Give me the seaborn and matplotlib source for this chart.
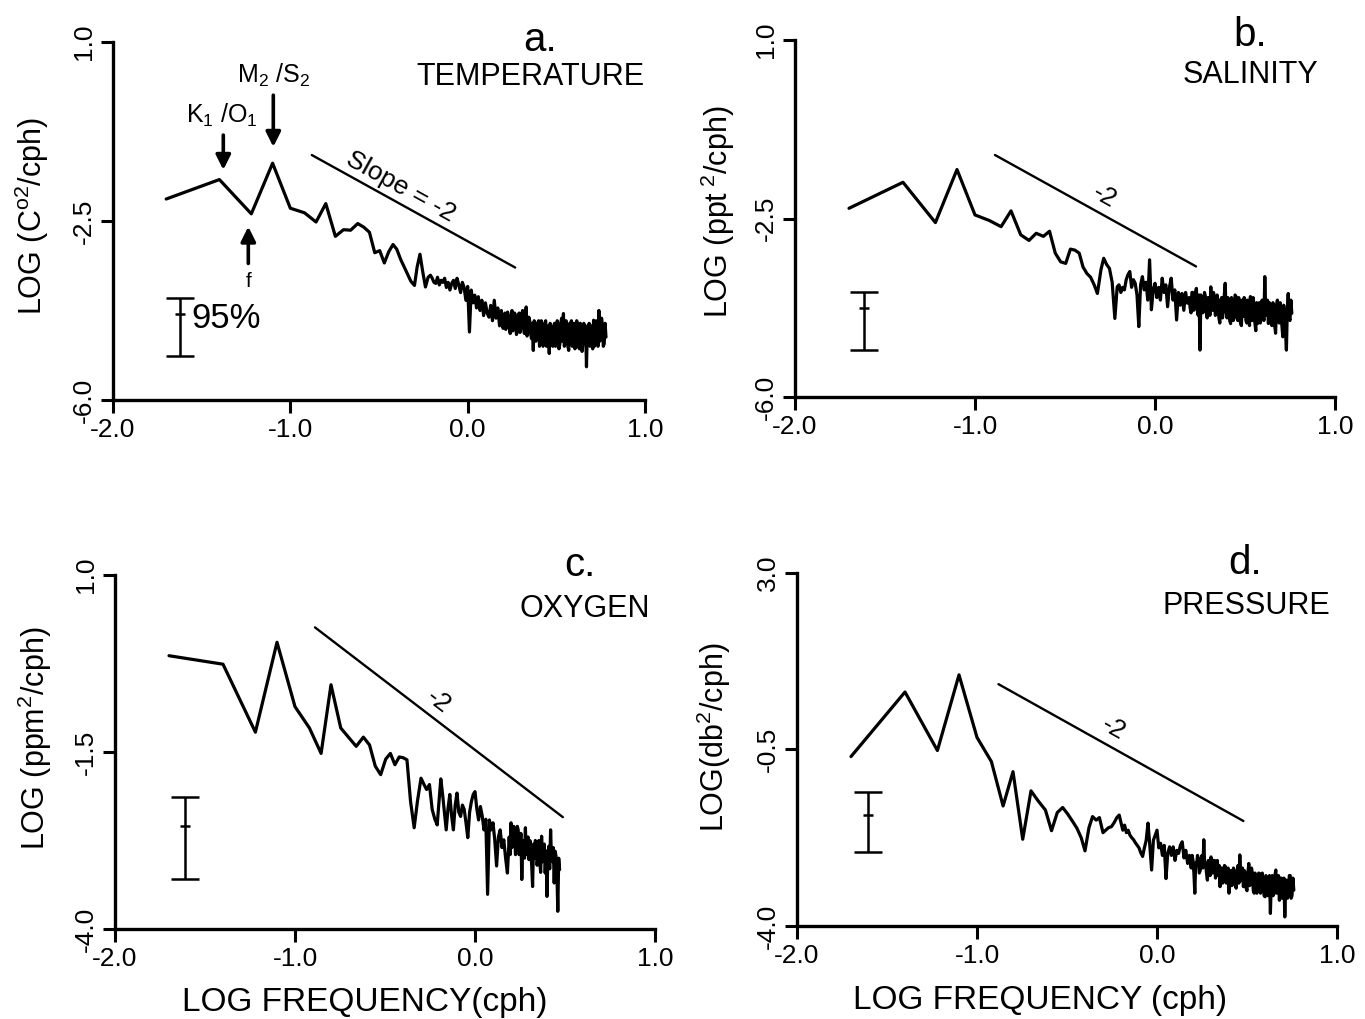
import numpy as np
import matplotlib
matplotlib.use("Agg")
import matplotlib.pyplot as plt
import seaborn as sns

sns.set_style("ticks")
plt.rcParams['font.family'] = ['Liberation Sans', 'DejaVu Sans']
plt.rcParams['mathtext.fontset'] = 'custom'
plt.rcParams['mathtext.rm'] = 'Liberation Sans'
plt.rcParams['mathtext.it'] = 'Liberation Sans'
plt.rcParams['mathtext.bf'] = 'Liberation Sans:bold'
plt.rcParams['axes.unicode_minus'] = False
for k in ['text.color', 'axes.labelcolor', 'xtick.color', 'ytick.color', 'axes.edgecolor']:
    plt.rcParams[k] = 'black'

# ---------------- data ----------------
# log10 frequency (cph) of the spectral estimates
freq_low = [
    -1.70, -1.40, -1.22, -1.10, -1.00, -0.92, -0.855, -0.80, -0.746, -0.70,
    -0.66, -0.62, -0.586, -0.554, -0.524, -0.496, -0.47, -0.445, -0.421, -0.40,
    -0.378, -0.358, -0.338, -0.32, -0.30, -0.285, -0.269, -0.253, -0.238, -0.223,
]
freq_mid = [
    -0.21, -0.20, -0.19, -0.18, -0.17, -0.16, -0.15, -0.14, -0.13, -0.12,
    -0.11, -0.10, -0.09, -0.08, -0.07, -0.06, -0.05, -0.04, -0.03, -0.02,
    -0.01, 0.00, 0.01, 0.02, 0.03, 0.04, 0.05, 0.06, 0.07, 0.08,
    0.09, 0.10, 0.11, 0.12, 0.13, 0.14, 0.15, 0.16, 0.17, 0.18,
]
freq_high = [
    0.19, 0.195, 0.20, 0.205, 0.21, 0.215, 0.22, 0.225, 0.23, 0.235,
    0.24, 0.245, 0.25, 0.255, 0.26, 0.265, 0.27, 0.275, 0.28, 0.285,
    0.29, 0.295, 0.30, 0.305, 0.31, 0.315, 0.32, 0.325, 0.33, 0.335,
    0.34, 0.345, 0.35, 0.355, 0.36, 0.365, 0.37, 0.375, 0.38, 0.385,
    0.39, 0.395, 0.40, 0.405, 0.41, 0.415, 0.42, 0.425, 0.43, 0.435,
    0.44, 0.445, 0.45, 0.455, 0.46, 0.465, 0.47, 0.475, 0.48, 0.485,
    0.49, 0.495, 0.50, 0.505, 0.51, 0.515, 0.52, 0.525, 0.53, 0.535,
    0.54, 0.545, 0.55, 0.555, 0.56, 0.565, 0.57, 0.575, 0.58, 0.585,
    0.59, 0.595, 0.60, 0.605, 0.61, 0.615, 0.62, 0.625, 0.63, 0.635,
    0.64, 0.645, 0.65, 0.655, 0.66, 0.665, 0.67, 0.675, 0.68, 0.685,
    0.69, 0.695, 0.70, 0.705, 0.71, 0.715, 0.72, 0.725, 0.73, 0.735,
    0.74, 0.745, 0.75, 0.755, 0.76, 0.765, 0.77, 0.775, 0.78,
]
log_freq = freq_low + freq_mid + freq_high

temperature_spec = [
    -2.07, -1.69, -2.36, -1.37, -2.25, -2.34, -2.52, -2.16, -2.80, -2.67,
    -2.68, -2.55, -2.62, -2.72, -3.12, -3.08, -3.32, -3.10, -2.96, -3.05,
    -3.25, -3.40, -3.55, -3.68, -3.76, -3.40, -3.15, -3.50, -3.79, -3.60,
    -3.56, -3.62, -3.70, -3.72, -3.60, -3.75, -3.66, -3.70, -3.62, -3.80,
    -3.70, -3.85, -3.72, -3.66, -3.82, -3.62, -3.75, -3.90, -3.70, -3.80,
    -4.05, -3.78, -4.67, -3.85, -4.10, -3.95, -4.20, -3.98, -4.25, -4.05,
    -4.35, -4.10, -4.30, -4.38, -4.15, -4.45, -4.05, -4.40, -4.20, -4.55,
    -4.25, -4.50, -4.60, -4.40, -4.30, -4.62, -4.51, -4.28, -4.35, -4.58,
    -4.70, -4.40, -4.25, -4.65, -4.55, -4.30, -4.38, -4.72, -4.65, -4.35,
    -4.30, -4.68, -4.50, -4.32, -4.25, -4.60, -4.70, -4.40, -4.18, -4.75,
    -4.60, -4.38, -4.45, -4.70, -4.80, -4.50, -5.03, -4.45, -4.50, -4.85,
    -4.75, -4.50, -4.45, -4.95, -4.85, -4.45, -4.55, -4.95, -4.90, -4.50,
    -4.45, -4.95, -4.85, -4.55, -5.09, -4.50, -4.60, -4.90, -4.95, -4.55,
    -4.50, -4.95, -4.80, -4.45, -4.55, -5.00, -4.90, -4.50, -4.40, -4.85,
    -4.31, -4.95, -4.85, -4.45, -4.60, -4.95, -5.03, -4.50, -4.65, -4.45,
    -4.95, -4.55, -4.50, -5.00, -4.80, -4.45, -4.57, -4.95, -5.00, -4.50,
    -4.60, -5.05, -4.90, -4.50, -4.70, -4.55, -5.35, -4.60, -4.75, -4.50,
    -4.95, -4.60, -4.55, -5.00, -4.44, -4.95, -4.85, -4.45, -4.60, -4.95,
    -4.25, -4.85, -4.80, -4.40, -4.55, -4.95, -4.90, -4.50, -4.77,
]

salinity_spec = [
    -2.30, -1.79, -2.58, -1.54, -2.43, -2.54, -2.66, -2.35, -2.82, -2.93,
    -2.79, -2.85, -2.75, -3.18, -3.35, -3.38, -3.10, -3.12, -3.18, -3.45,
    -3.58, -3.65, -3.80, -3.97, -3.50, -3.28, -3.40, -3.48, -3.75, -4.46,
    -3.84, -3.80, -3.95, -3.85, -3.90, -3.70, -3.60, -3.54, -3.85, -3.70,
    -3.77, -4.00, -4.62, -3.80, -3.64, -3.90, -3.75, -4.10, -3.31, -4.29,
    -3.90, -3.77, -4.05, -3.85, -4.10, -3.67, -3.95, -3.80, -4.23, -3.85,
    -3.67, -4.10, -3.90, -4.49, -3.95, -4.20, -3.97, -4.30, -3.95, -4.16,
    -4.05, -4.25, -4.35, -3.95, -3.95, -4.30, -4.25, -3.95, -3.87, -4.30,
    -4.40, -4.00, -5.08, -4.00, -4.10, -4.35, -4.30, -3.95, -4.03, -4.35,
    -4.45, -4.05, -4.10, -4.40, -3.84, -4.20, -4.30, -3.95, -4.05, -4.40,
    -4.36, -4.00, -4.15, -4.45, -4.55, -4.10, -4.05, -4.45, -4.30, -4.00,
    -3.77, -4.30, -4.45, -4.05, -4.20, -4.50, -4.56, -4.05, -4.10, -4.50,
    -4.40, -4.00, -4.03, -4.45, -4.50, -4.05, -4.15, -4.55, -4.60, -4.10,
    -4.42, -4.05, -4.10, -4.50, -4.55, -4.10, -4.25, -4.60, -4.03, -4.40,
    -4.50, -4.05, -4.20, -4.55, -4.70, -4.15, -4.56, -4.20, -4.15, -4.55,
    -4.45, -4.10, -4.25, -4.50, -3.64, -4.30, -4.40, -4.10, -4.56, -4.15,
    -4.20, -4.55, -4.60, -4.15, -4.30, -4.60, -4.75, -4.20, -4.10, -4.50,
    -4.55, -4.15, -4.30, -4.60, -4.82, -4.20, -4.40, -4.70, -5.08, -4.30,
    -3.97, -4.45, -4.50, -4.10, -4.36,
]

oxygen_spec = [
    -0.14, -0.26, -1.22, 0.05, -0.86, -1.16, -1.52, -0.55, -1.16, -1.30,
    -1.42, -1.29, -1.40, -1.70, -1.82, -1.60, -1.52, -1.68, -1.57, -1.58,
    -1.61, -2.20, -2.57, -2.20, -1.87, -1.95, -2.03, -1.96, -2.31, -2.45,
    -2.53, -2.20, -1.88, -2.10, -2.35, -2.60, -2.30, -2.10, -2.40, -2.60,
    -2.25, -2.08, -2.35, -2.41, -2.25, -2.31, -2.50, -2.71, -2.35, -2.20,
    -2.10, -2.06, -2.30, -2.46, -2.27, -2.40, -2.60, -2.45, -3.51, -2.46,
    -2.60, -2.50, -2.75, -3.11, -2.70, -2.60, -2.85, -2.74, -3.00, -3.21,
    -2.70, -2.95, -2.50, -2.85, -2.80, -2.55, -2.65, -2.95, -2.79, -2.55,
    -2.60, -2.95, -2.90, -2.65, -3.30, -2.80, -2.75, -3.00, -2.57, -2.95,
    -2.85, -2.70, -3.02, -2.75, -2.90, -3.10, -3.40, -2.80, -3.00, -2.75,
    -2.78, -3.10, -2.95, -2.75, -3.07, -3.20, -2.69, -3.05, -2.95, -2.80,
    -3.21, -2.90, -3.54, -2.95, -2.83, -3.15, -2.60, -3.00, -3.05, -2.85,
    -3.35, -2.90, -2.97, -3.20, -3.75, -3.00, -3.16,
]

pressure_spec = [
    -0.64, 0.64, -0.52, 0.98, -0.26, -0.74, -1.62, -0.94, -2.28, -1.32,
    -1.52, -1.70, -2.11, -1.75, -1.65, -1.78, -1.92, -2.06, -2.25, -2.51,
    -2.05, -1.83, -1.90, -1.85, -2.15, -2.10, -2.05, -2.03, -1.95, -1.85,
    -1.80, -1.95, -2.10, -2.00, -2.15, -2.10, -2.20, -2.25, -2.29, -2.35,
    -2.40, -2.45, -2.55, -2.62, -2.45, -2.30, -1.96, -2.40, -2.89, -2.30,
    -2.20, -2.10, -2.45, -2.36, -2.60, -2.40, -3.06, -2.55, -2.43, -2.60,
    -2.43, -2.70, -2.50, -2.56, -2.40, -2.33, -2.65, -2.50, -2.76, -2.60,
    -2.85, -2.60, -2.70, -2.95, -3.35, -2.75, -2.80, -2.60, -2.69, -2.95,
    -2.90, -2.65, -2.60, -2.85, -2.29, -2.80, -2.75, -2.95, -3.09, -2.70,
    -2.80, -3.00, -2.63, -2.90, -2.95, -2.70, -2.70, -3.05, -2.89, -2.70,
    -3.00, -2.80, -3.22, -2.85, -2.85, -3.15, -3.10, -2.80, -2.82, -3.15,
    -3.05, -2.85, -3.35, -2.95, -2.90, -3.20, -3.15, -2.85, -2.96, -3.20,
    -3.25, -2.90, -2.80, -3.15, -2.59, -3.00, -3.10, -2.85, -3.22, -2.90,
    -2.95, -3.25, -3.30, -2.95, -2.76, -3.20, -3.15, -2.85, -2.95, -3.30,
    -3.35, -2.95, -3.05, -3.35, -3.25, -2.95, -2.96, -3.35, -3.30, -2.95,
    -3.10, -3.40, -3.42, -3.00, -3.05, -3.40, -3.30, -3.00, -3.75, -3.10,
    -3.00, -3.40, -3.35, -3.00, -2.89, -3.35, -3.20, -3.00, -3.49, -3.05,
    -3.05, -3.45, -3.40, -3.05, -3.82, -3.15, -3.09, -3.45, -3.35, -3.00,
    -3.00, -3.45, -3.40, -3.05, -3.29,
]

# reference slope (-2) lines: x endpoints, y endpoints
slope_x = {"a": [-0.879, 0.268], "b": [-0.889, 0.228], "c": [-0.889, 0.488], "d": [-0.881, 0.480]}
slope_y = {"a": [-1.21, -3.41], "b": [-1.255, -3.44], "c": [0.26, -2.42], "d": [0.796, -1.918]}
slope_text = {"a": "Slope = -2", "b": "-2", "c": "-2", "d": "-2"}

# 95% confidence bars: x, centre, low, high
conf_x = {"a": -1.622, "b": -1.615, "c": -1.613, "d": -1.604}
conf_mid = {"a": -4.31, "b": -4.25, "c": -2.55, "d": -1.80}
conf_low = {"a": -5.14, "b": -5.07, "c": -3.30, "d": -2.53}
conf_high = {"a": -4.00, "b": -3.94, "c": -2.14, "d": -1.35}

y_ticks = {"a": [-6.0, -2.5, 1.0], "b": [-6.0, -2.5, 1.0], "c": [-4.0, -1.5, 1.0], "d": [-4.0, -0.5, 3.0]}
y_ticklabels = {"a": ["-6.0", "-2.5", "1.0"], "b": ["-6.0", "-2.5", "1.0"],
                "c": ["-4.0", "-1.5", "1.0"], "d": ["-4.0", "-0.5", "3.0"]}
x_ticks = [-2.0, -1.0, 0.0, 1.0]
x_ticklabels = ["-2.0", "-1.0", "0.0", "1.0"]

panel_names = {"a": "TEMPERATURE", "b": "SALINITY", "c": "OXYGEN", "d": "PRESSURE"}
y_titles = {"a": r"LOG (C$^{\mathrm{o}2}$/cph)", "b": r"LOG (ppt$^{\ 2}$/cph)",
            "c": r"LOG (ppm$^2$/cph)", "d": r"LOG(db$^2$/cph)"}
spectra = {"a": temperature_spec, "b": salinity_spec, "c": oxygen_spec, "d": pressure_spec}

# tidal / inertial peak annotations (panel a)
peak_labels = [r"K$_1$ /O$_1$", r"M$_2$ /S$_2$", "f"]
peak_x = [-1.378, -1.096, -1.237]
arrow_tail_y = [-0.82, -0.04, -3.33]
arrow_head_y = [-1.50, -1.05, -2.61]

# ---------------- layout ----------------
W, H = 1365, 1019
fig = plt.figure(figsize=(W / 100, H / 100), dpi=100)
fig.patch.set_facecolor("white")

# axes boxes in pixels: left, top, right, bottom
boxes = {"a": (113, 42, 645, 400), "b": (795, 40, 1335, 397),
         "c": (115, 575, 655, 929), "d": (797, 573, 1337, 926)}
letter_pos = {"a": (540, 40), "b": (1250, 35), "c": (580, 565), "d": (1245, 563)}
name_pos = {"a": (530, 77), "b": (1250, 75), "c": (585, 609), "d": (1246, 606)}
ylab_pos = {"a": (32, 216), "b": (718, 212), "c": (35, 738), "d": (714, 737)}
slope_lab_pos = {"a": (-0.38, -1.83), "b": (-0.278, -2.07), "c": (-0.204, -0.79), "d": (-0.243, -0.078)}


def fxy(x, y):
    return x / W, 1 - y / H


for key in ["a", "b", "c", "d"]:
    l, t, r, b = boxes[key]
    ax = fig.add_axes([l / W, 1 - b / H, (r - l) / W, (b - t) / H])
    ax.set_facecolor("white")
    yv = spectra[key]
    xv = log_freq[:len(yv)]
    sns.lineplot(x=xv, y=yv, ax=ax, color="black", lw=2.3, sort=False,
                 estimator=None, legend=False)
    sns.lineplot(x=slope_x[key], y=slope_y[key], ax=ax, color="black",
                 lw=1.7, sort=False, estimator=None, legend=False)
    yt = y_ticks[key]
    ax.set_xlim(-2.0, 1.0)
    ax.set_ylim(yt[0], yt[-1])
    ax.set_xticks(x_ticks)
    ax.set_xticklabels(x_ticklabels, fontsize=19)
    ax.set_yticks(yt)
    ax.set_yticklabels(y_ticklabels[key], fontsize=19, rotation=90, va="center")
    ax.tick_params(direction="out", length=9, width=2.2, colors="black", pad=4)
    ax.tick_params(axis="y", pad=3)
    sns.despine(ax=ax)
    for s in ["left", "bottom"]:
        ax.spines[s].set_linewidth(2.4)
        ax.spines[s].set_color("black")
    ax.set_xlabel("")
    ax.set_ylabel("")

    # confidence bar
    m = conf_mid[key]
    ax.errorbar([conf_x[key]], [m], yerr=[[m - conf_low[key]], [conf_high[key] - m]],
                fmt="_", ms=7, mew=1.8, color="black", ecolor="black",
                elinewidth=1.8, capsize=10, capthick=1.8)

    # slope label
    sx, sy = slope_x[key], slope_y[key]
    ang = np.degrees(np.arctan2(sy[1] - sy[0], sx[1] - sx[0]))
    sang = ax.transData.transform_angles(np.array([ang]), np.array([[sx[0], sy[0]]]))[0]
    tx, ty = slope_lab_pos[key]
    ax.text(tx, ty, slope_text[key], rotation=sang, rotation_mode="anchor",
            ha="center", va="center", fontsize=19)

    # panel letter and name
    fig.text(*fxy(*letter_pos[key]), f"{key}.", fontsize=29, ha="center", va="center")
    fig.text(*fxy(*name_pos[key]), panel_names[key], fontsize=22, ha="center", va="center")
    fig.text(*fxy(*ylab_pos[key]), y_titles[key], fontsize=22, rotation=90,
             ha="center", va="center")

    if key == "a":
        for lab, px, ty0, ty1 in zip(peak_labels, peak_x, arrow_tail_y, arrow_head_y):
            ax.annotate("", xy=(px, ty1), xytext=(px, ty0),
                        arrowprops=dict(arrowstyle="-|>", color="black", lw=2.6,
                                        mutation_scale=22, shrinkA=0, shrinkB=0))
        ax.text(-1.387, -0.43, peak_labels[0], fontsize=18, ha="center", va="center")
        ax.text(-1.096, 0.354, peak_labels[1], fontsize=18, ha="center", va="center")
        ax.text(-1.237, -3.69, peak_labels[2], fontsize=15, ha="center", va="center")
        ax.text(-1.56, -4.41, "95%", fontsize=25, ha="left", va="center")

fig.text(*fxy(365, 1003), "LOG FREQUENCY(cph)", fontsize=24, ha="center", va="center")
fig.text(*fxy(1040, 1000), "LOG FREQUENCY (cph)", fontsize=24, ha="center", va="center")

fig.savefig("out.png", dpi=100, facecolor="white")
